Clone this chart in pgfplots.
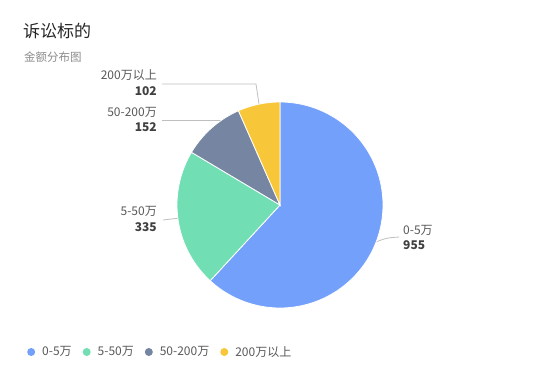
\documentclass[border=0pt]{standalone}
\usepackage{fontspec}
\setmainfont{Noto Sans CJK SC}
\usepackage{pgfplots}
\usepackage{pgfplotstable}
\pgfplotsset{compat=1.18}
\definecolor{cA}{HTML}{73A0FA}
\definecolor{cB}{HTML}{72DEB3}
\definecolor{cC}{HTML}{7585A2}
\definecolor{cD}{HTML}{F7C739}
\definecolor{lineC}{HTML}{BFBFBF}
\definecolor{titleC}{HTML}{262626}
\definecolor{subC}{HTML}{8C8C8C}
\definecolor{labC}{HTML}{595959}
\definecolor{valC}{HTML}{404040}
\pgfplotstableread{
idx value
0 955
1 335
2 152
3 102
}\pietable
\pgfplotstablegetelem{0}{value}\of\pietable \let\vA\pgfplotsretval
\pgfplotstablegetelem{1}{value}\of\pietable \let\vB\pgfplotsretval
\pgfplotstablegetelem{2}{value}\of\pietable \let\vC\pgfplotsretval
\pgfplotstablegetelem{3}{value}\of\pietable \let\vD\pgfplotsretval
\pgfmathsetmacro\tot{\vA+\vB+\vC+\vD}
\pgfmathsetmacro\aA{90}
\pgfmathsetmacro\aB{\aA-360*(\vA/\tot)}
\pgfmathsetmacro\aC{\aB-360*(\vB/\tot)}
\pgfmathsetmacro\aD{\aC-360*(\vC/\tot)}
\pgfmathsetmacro\aE{\aD-360*(\vD/\tot)}
\begin{document}
\begin{tikzpicture}
\begin{axis}[
  hide axis, scale only axis, width=560pt, height=376pt,
  xmin=0, xmax=560, ymin=0, ymax=376, clip=false,
  legend columns=4,
  legend style={draw=none, fill=none, at={(axis cs:24,24)}, anchor=west,
    font=\fontsize{12}{14}\selectfont\color{labC},
    /tikz/every even column/.append style={column sep=8pt},
    nodes={inner xsep=3pt}},
  legend image code/.code={\fill[#1, draw=none] (4pt,0pt) circle (4pt);
    \path[draw=none, fill=none] (0pt,0pt) -- (12pt,0pt);},
]
\path (axis cs:0,0) rectangle (axis cs:560,376);
% leader lines
\draw[lineC, line width=0.8pt] (axis cs:376,134) .. controls (axis cs:386,138) .. (axis cs:399,139);
\draw[lineC, line width=0.8pt] (axis cs:163,156) -- (axis cs:180,158);
\draw[lineC, line width=0.8pt] (axis cs:162,256) -- (axis cs:222,256);
\draw[lineC, line width=0.8pt] (axis cs:162,292) -- (axis cs:256,292) -- (axis cs:259,272);
% wedges
\addplot[fill=cA, draw=white, line width=0.8pt, domain=\aB:\aA, samples=90, variable=\t]
  ({280+103*cos(t)},{171+103*sin(t)}) -- (axis cs:280,171) -- cycle;
\addlegendentry{0-5万}
\addplot[fill=cB, draw=white, line width=0.8pt, domain=\aC:\aB, samples=40, variable=\t]
  ({280+103*cos(t)},{171+103*sin(t)}) -- (axis cs:280,171) -- cycle;
\addlegendentry{5-50万}
\addplot[fill=cC, draw=white, line width=0.8pt, domain=\aD:\aC, samples=25, variable=\t]
  ({280+103*cos(t)},{171+103*sin(t)}) -- (axis cs:280,171) -- cycle;
\addlegendentry{50-200万}
\addplot[fill=cD, draw=white, line width=0.8pt, domain=\aE:\aD, samples=20, variable=\t]
  ({280+103*cos(t)},{171+103*sin(t)}) -- (axis cs:280,171) -- cycle;
\addlegendentry{200万以上}
% titles
\node[anchor=west, inner sep=0pt, text=titleC, font=\fontsize{17}{20}\selectfont] at (axis cs:23,345) {诉讼标的};
\node[anchor=west, inner sep=0pt, text=subC, font=\fontsize{11.5}{13}\selectfont] at (axis cs:24,319) {金额分布图};
% labels
\node[anchor=east, inner sep=0pt, text=labC, font=\fontsize{12}{14}\selectfont] at (axis cs:157,301) {200万以上};
\node[anchor=east, inner sep=0pt, text=valC, font=\fontsize{12}{14}\selectfont\bfseries] at (axis cs:157,285) {102};
\node[anchor=east, inner sep=0pt, text=labC, font=\fontsize{12}{14}\selectfont] at (axis cs:157,264) {50-200万};
\node[anchor=east, inner sep=0pt, text=valC, font=\fontsize{12}{14}\selectfont\bfseries] at (axis cs:157,249) {152};
\node[anchor=east, inner sep=0pt, text=labC, font=\fontsize{12}{14}\selectfont] at (axis cs:157,165) {5-50万};
\node[anchor=east, inner sep=0pt, text=valC, font=\fontsize{12}{14}\selectfont\bfseries] at (axis cs:157,149) {335};
\node[anchor=west, inner sep=0pt, text=labC, font=\fontsize{12}{14}\selectfont] at (axis cs:403,146) {0-5万};
\node[anchor=west, inner sep=0pt, text=valC, font=\fontsize{12}{14}\selectfont\bfseries] at (axis cs:403,131) {955};
\end{axis}
\end{tikzpicture}
\end{document}
